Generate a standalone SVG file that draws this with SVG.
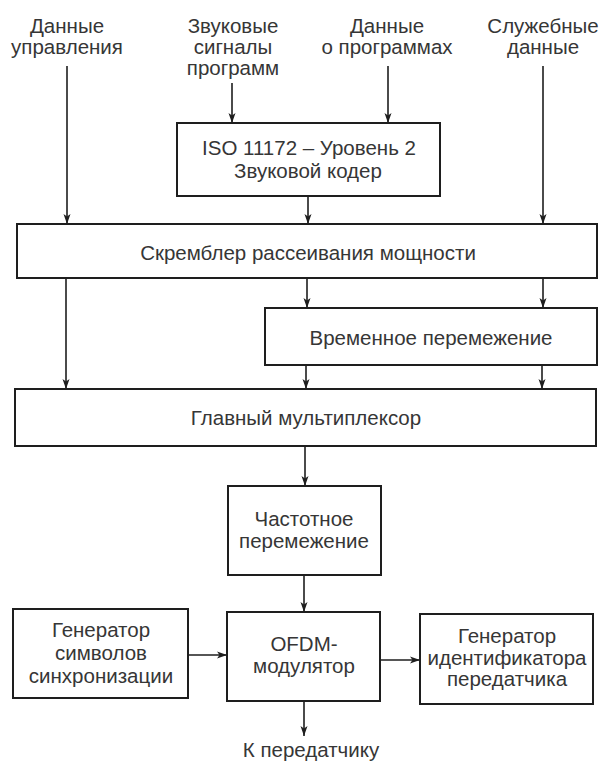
<svg xmlns="http://www.w3.org/2000/svg" width="603" height="763" viewBox="0 0 603 763">
<defs>
<style>
.box{fill:#fff;stroke:#1e1e1e;stroke-width:2}
.ln{stroke:#1e1e1e;stroke-width:1.6;fill:none}
.arr{marker-end:url(#ah)}
text{font-family:"Liberation Sans",Arial,sans-serif;font-size:20.5px;fill:#363636;text-anchor:middle}
</style>
<marker id="ah" viewBox="0 0 10 10" refX="10" refY="5" markerWidth="10" markerHeight="12" markerUnits="userSpaceOnUse" orient="auto">
<path d="M0,1.5 L10,5 L0,8.5 L2.5,5 Z" fill="#1e1e1e"/>
</marker>
</defs>
<rect width="603" height="763" fill="#fff"/>
<g id="connectors">
<line class="ln arr" x1="67" y1="66" x2="67" y2="224"/>
<line class="ln arr" x1="66" y1="278" x2="66" y2="389"/>
<line class="ln arr" x1="543" y1="66" x2="543" y2="224"/>
<line class="ln arr" x1="543" y1="278" x2="543" y2="308"/>
<line class="ln arr" x1="542" y1="365" x2="542" y2="389"/>
<line class="ln arr" x1="232" y1="83" x2="232" y2="123"/>
<line class="ln arr" x1="388" y1="66" x2="388" y2="123"/>
<line class="ln arr" x1="308" y1="196" x2="308" y2="224"/>
<line class="ln arr" x1="307" y1="278" x2="307" y2="308"/>
<line class="ln arr" x1="306" y1="365" x2="306" y2="389"/>
<line class="ln arr" x1="305" y1="446" x2="305" y2="486"/>
<line class="ln arr" x1="304" y1="575" x2="304" y2="612"/>
<line class="ln arr" x1="188" y1="655" x2="227" y2="655"/>
<line class="ln arr" x1="380" y1="660" x2="420" y2="660"/>
<line class="ln arr" x1="304" y1="701" x2="304" y2="736"/>
</g>
<g id="in-control">
<text x="67" y="33">Данные</text>
<text x="67" y="54">управления</text>
</g>
<g id="in-audio">
<text x="233" y="33">Звуковые</text>
<text x="233" y="54">сигналы</text>
<text x="233" y="75">программ</text>
</g>
<g id="in-progdata">
<text x="387" y="33">Данные</text>
<text x="387" y="54">о программах</text>
</g>
<g id="in-service">
<text x="543" y="33">Служебные</text>
<text x="543" y="54">данные</text>
</g>
<g id="encoder">
<rect class="box" x="177" y="123" width="263" height="73"/>
<text x="309" y="155">ISO 11172 – Уровень 2</text>
<text x="308" y="178">Звуковой кодер</text>
</g>
<g id="scrambler">
<rect class="box" x="17" y="224" width="580" height="54"/>
<text x="308" y="260">Скремблер рассеивания мощности</text>
</g>
<g id="time-interleave">
<rect class="box" x="265" y="308" width="332" height="57"/>
<text x="431" y="345">Временное перемежение</text>
</g>
<g id="mux">
<rect class="box" x="15" y="389" width="581" height="57"/>
<text x="306" y="425">Главный мультиплексор</text>
</g>
<g id="freq-interleave">
<rect class="box" x="228" y="486" width="153" height="89"/>
<text x="304" y="526">Частотное</text>
<text x="304" y="548">перемежение</text>
</g>
<g id="sync-gen">
<rect class="box" x="13" y="609" width="175" height="89"/>
<text x="101" y="637">Генератор</text>
<text x="101" y="660">символов</text>
<text x="101" y="683">синхронизации</text>
</g>
<g id="ofdm">
<rect class="box" x="227" y="612" width="153" height="89"/>
<text x="304" y="651">OFDM-</text>
<text x="304" y="673">модулятор</text>
</g>
<g id="tx-id-gen">
<rect class="box" x="420" y="614" width="173" height="90"/>
<text x="507" y="643">Генератор</text>
<text x="507" y="665">идентификатора</text>
<text x="507" y="686">передатчика</text>
</g>
<g id="out">
<text x="311" y="757">К передатчику</text>
</g>
</svg>
